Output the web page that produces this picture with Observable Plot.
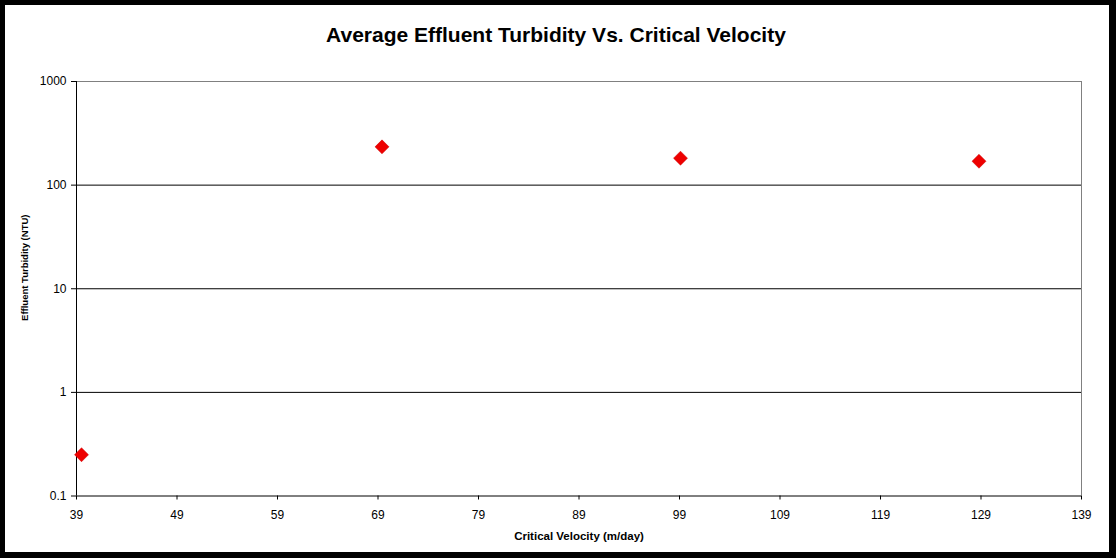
<!DOCTYPE html>
<html>
<head>
<meta charset="utf-8">
<script src="https://cdn.jsdelivr.net/npm/d3@7"></script>
<script src="https://cdn.jsdelivr.net/npm/@observablehq/plot@0.6"></script>
<style>
  html, body { margin: 0; padding: 0; background: #fff; }
  #wrap { position: relative; width: 1116px; height: 558px; overflow: hidden; background: #fff; font-family: "Liberation Sans", Arial, sans-serif; }
  #title { height: 60px; box-sizing: border-box; padding-top: 24px; padding-right: 4px; text-align: center; font-weight: bold; font-size: 21px; line-height: 21px; color: #000; }
  #frame { position: absolute; left: 0; top: 0; width: 1116px; height: 558px; box-sizing: border-box; border-style: solid; border-color: #000; border-width: 5px 7px 6px 5px; pointer-events: none; }
  svg { display: block; }
</style>
</head>
<body>
<div id="wrap">
  <div id="title">Average Effluent Turbidity Vs. Critical Velocity</div>
  <div id="chart"></div>
  <div id="frame"></div>
</div>
<script>
// Data
const velocity = [39.5, 69.4, 99.1, 128.8];
const turbidity = [0.25, 234, 182, 170];
const xTicks = [39, 49, 59, 69, 79, 89, 99, 109, 119, 129, 139];
const yTicks = [0.1, 1, 10, 100, 1000];
const gridValues = [1, 10, 100];
const xLabel = "Critical Velocity (m/day)";
const yLabel = "Effluent Turbidity (NTU)";

const points = velocity.map((v, i) => ({v, t: turbidity[i]}));

const font = "Liberation Sans, Arial, sans-serif";

const chart = Plot.plot({
  width: 1116,
  height: 498,
  marginLeft: 76,
  marginRight: 35,
  marginTop: 21,
  marginBottom: 62.5,
  style: {fontFamily: font, fontSize: "12px", color: "#000", background: "#fff"},
  x: {domain: [xTicks[0], xTicks[xTicks.length - 1]]},
  y: {type: "log", domain: [yTicks[0], yTicks[yTicks.length - 1]]},
  marks: [
    Plot.ruleY(gridValues, {stroke: "#000", strokeWidth: 1}),
    Plot.ruleY([yTicks[yTicks.length - 1]], {stroke: "#808080", strokeWidth: 1}),
    Plot.ruleX([xTicks[xTicks.length - 1]], {stroke: "#808080", strokeWidth: 1}),
    Plot.ruleX([xTicks[0]], {stroke: "#000", strokeWidth: 1}),
    Plot.ruleY([yTicks[0]], {stroke: "#000", strokeWidth: 1}),
    Plot.axisX({ticks: xTicks, tickFormat: d => String(d), tickSize: 4, tickPadding: 10, label: null, stroke: "#000", fill: "#000", fontSize: 12}),
    Plot.axisY({ticks: yTicks, tickFormat: d => String(d), tickSize: 5, tickPadding: 5, label: null, stroke: "#000", fill: "#000", fontSize: 12}),
    Plot.dot(points, {x: "v", y: "t", symbol: "diamond2", r: 6.3, fill: "#ee0000", stroke: "#cc0000", strokeWidth: 0.5}),
    Plot.text([xLabel], {frameAnchor: "bottom", dy: 40, text: d => d, fontWeight: "bold", fontSize: 11.5, fill: "#000", lineAnchor: "middle"}),
    Plot.text([yLabel], {frameAnchor: "left", dx: -52, dy: -21, rotate: -90, text: d => d, fontWeight: "bold", fontSize: 9.5, fill: "#000", textAnchor: "middle", lineAnchor: "middle"})
  ]
});
document.getElementById("chart").appendChild(chart);
</script>
</body>
</html>
